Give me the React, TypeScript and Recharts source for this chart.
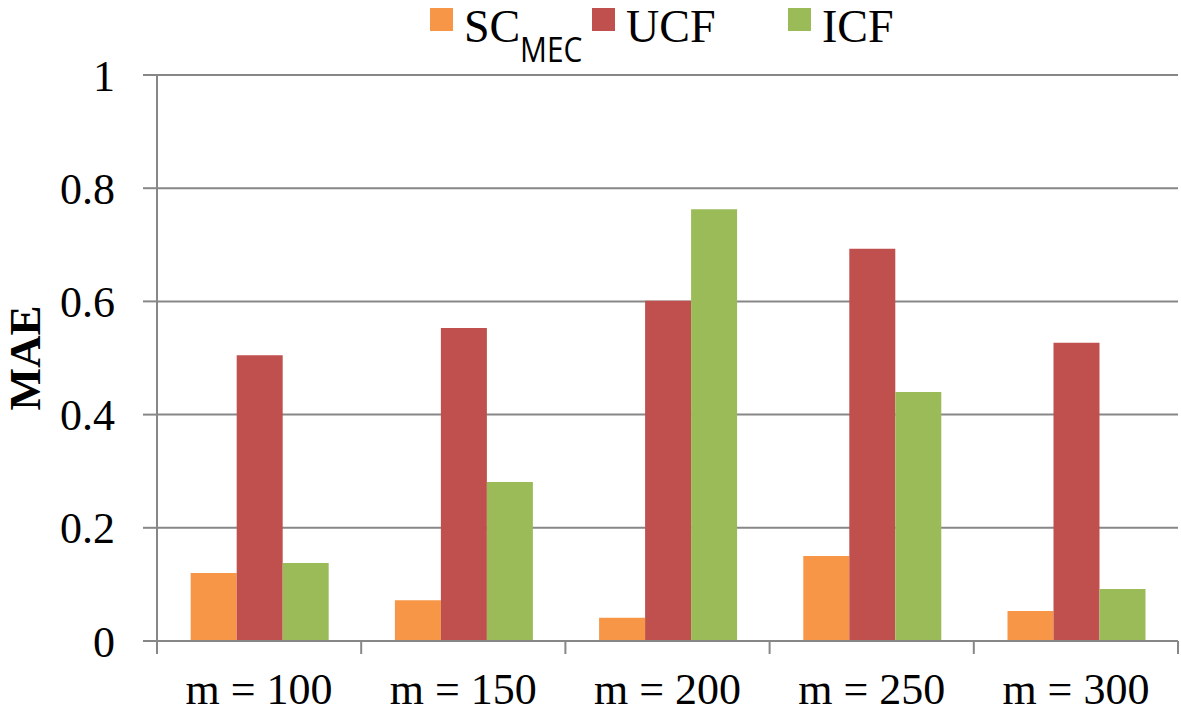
import { BarChart, Bar, XAxis, YAxis, CartesianGrid, Label } from "recharts";

const categories = ["m = 100", "m = 150", "m = 200", "m = 250", "m = 300"];
const scMec = [0.12, 0.072, 0.041, 0.15, 0.053];
const ucf = [0.505, 0.553, 0.601, 0.693, 0.527];
const icf = [0.138, 0.281, 0.763, 0.44, 0.092];
const yTicks = [0, 0.2, 0.4, 0.6, 0.8, 1];

const series = [
  { key: "sc", name: "SC", sub: "MEC", color: "#F79646", left: 430 },
  { key: "ucf", name: "UCF", sub: "", color: "#C0504D", left: 592 },
  { key: "icf", name: "ICF", sub: "", color: "#9BBB59", left: 788 },
];

const data = categories.map((c, i) => ({
  name: c,
  sc: scMec[i],
  ucf: ucf[i],
  icf: icf[i],
}));

const W = 1181;
const H = 713;
const M = { top: 75, right: 3, left: 0, bottom: 0 };
const Y_W = 157;
const X_H = 72;
const plotW = W - M.left - M.right - Y_W;
const band = plotW / categories.length;
const axisColor = "#878787";
const font = "Liberation Serif, DejaVu Serif, serif";

function XTick(props: any) {
  const { x, y, payload, index } = props;
  const left = x - band / 2;
  // y comes in a few px below the axis line, so pull the tick marks back up
  const axisY = y - 8;
  return (
    <g>
      <line x1={left} y1={axisY} x2={left} y2={axisY + 13} stroke={axisColor} strokeWidth={2} />
      {index === categories.length - 1 && (
        <line x1={left + band} y1={axisY} x2={left + band} y2={axisY + 13} stroke={axisColor} strokeWidth={2} />
      )}
      <text x={x} y={axisY + 63} textAnchor="middle" fontSize={44} style={{ fontFamily: font }} fill="#000">
        {payload.value}
      </text>
    </g>
  );
}

export default function App() {
  return (
    <div style={{ position: "absolute", left: 0, top: 0, width: W, height: H, background: "#fff" }}>
      {series.map((s) => (
        <div key={s.key} style={{ position: "absolute", top: 0, left: s.left, height: 75 }}>
          <div style={{ position: "absolute", left: 0, top: 8, width: 23, height: 23, background: s.color }} />
          <span
            style={{
              position: "absolute",
              left: 34,
              top: 0,
              whiteSpace: "nowrap",
              fontFamily: font,
              fontSize: 46,
              lineHeight: "normal",
              color: "#000",
            }}
          >
            {s.name}
            {s.sub && (
              <span
                style={{
                  display: "inline-block",
                  fontFamily: "'Open Sans', sans-serif",
                  fontSize: 34,
                  position: "relative",
                  top: 20,
                  transform: "scaleX(0.88)",
                  transformOrigin: "left center",
                }}
              >
                {s.sub}
              </span>
            )}
          </span>
        </div>
      ))}
      <BarChart width={W} height={H} data={data} margin={M} barCategoryGap="16.5%" barGap={0}>
        <CartesianGrid vertical={false} stroke={axisColor} strokeWidth={2} />
        <XAxis
          dataKey="name"
          height={X_H}
          stroke={axisColor}
          strokeWidth={2}
          tickLine={false}
          tick={<XTick />}
          interval={0}
        />
        <YAxis
          width={Y_W}
          domain={[0, 1]}
          ticks={yTicks}
          stroke={axisColor}
          strokeWidth={2}
          tickSize={14}
          tickMargin={28}
          tick={{ fontSize: 44, fill: "#000", style: { fontFamily: font } }}
        >
          <Label
            content={({ viewBox }: any) => {
              const cx = 25;
              const cy = viewBox.y + viewBox.height / 2;
              return (
                <text
                  x={cx}
                  y={cy}
                  transform={`rotate(-90, ${cx}, ${cy})`}
                  textAnchor="middle"
                  dominantBaseline="central"
                  fontSize={45}
                  fontWeight="bold"
                  style={{ fontFamily: font }}
                  fill="#000"
                >
                  MAE
                </text>
              );
            }}
          />
        </YAxis>
        {series.map((s) => (
          <Bar key={s.key} dataKey={s.key} name={s.name} fill={s.color} isAnimationActive={false} />
        ))}
      </BarChart>
    </div>
  );
}
